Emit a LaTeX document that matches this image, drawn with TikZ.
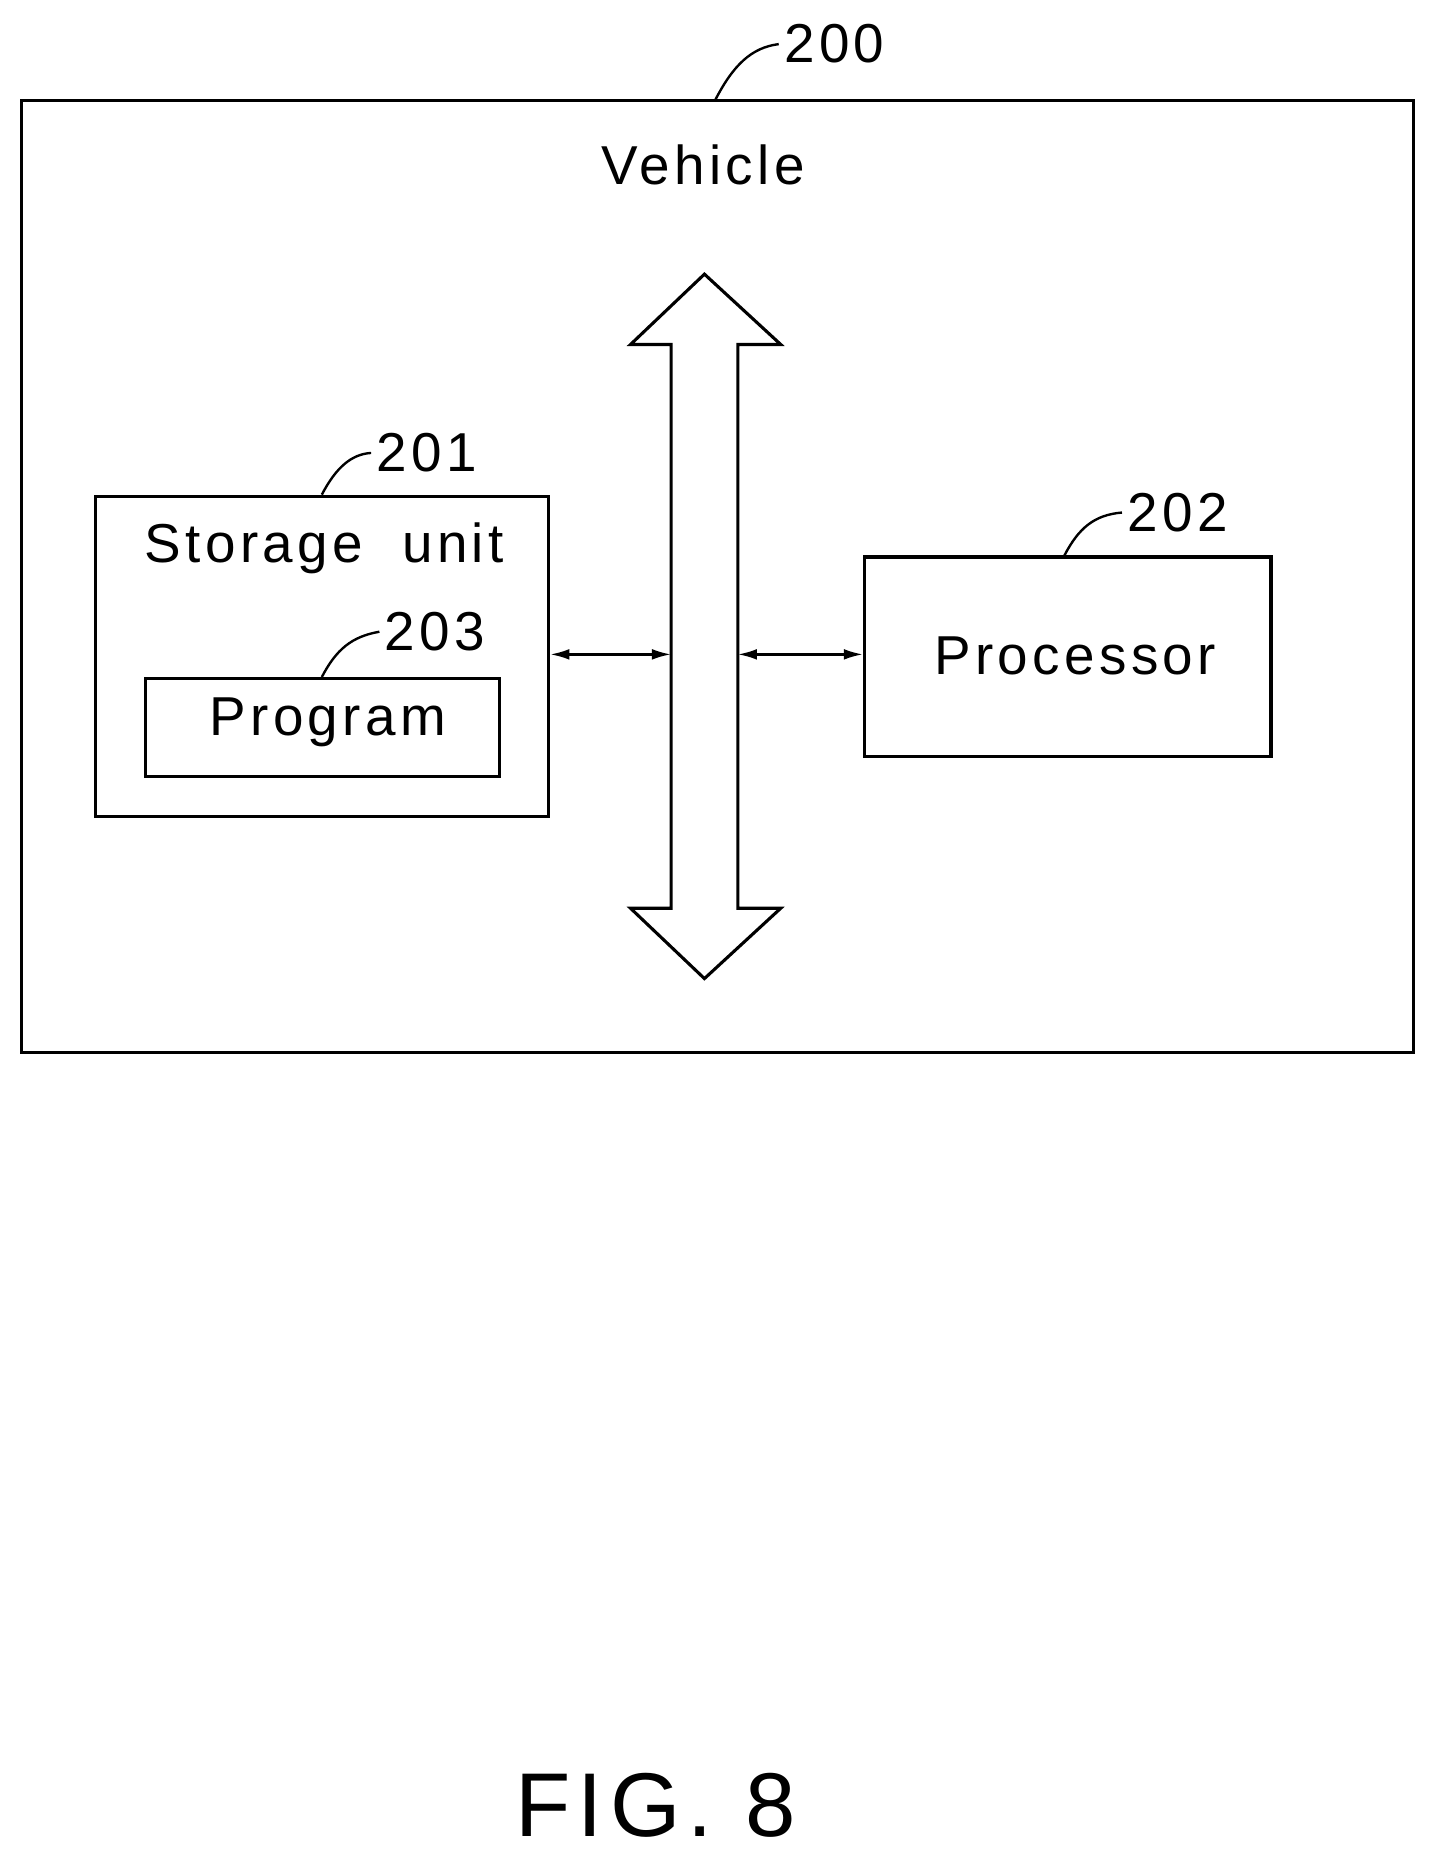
\documentclass[tikz,border=0pt]{standalone}
\usepackage{fontspec}
\setmainfont{Liberation Sans}[LetterSpace=8]
\usetikzlibrary{arrows.meta}
\begin{document}
\begin{tikzpicture}[x=1pt,y=-1pt,line width=2.6pt,
  box/.style={draw,line width=2.6pt},
  txt/.style={font=\fontsize{46}{50}\selectfont},
  num/.style={font=\fontsize{46}{50}\selectfont},
  lead/.style={line width=2pt},
  conn/.style={line width=2pt,{Latex[length=16pt,width=9pt]}-{Latex[length=16pt,width=9pt]}}]
\useasboundingbox (0,0) rectangle (1200,1563);
\draw[box] (18,84) rectangle (1186,883);
\node[num] (n200) at (700,37) {200};
\draw[lead] (600,84) .. controls (615,55) and (630,40) .. (n200.west);
\node[txt] (veh) at (590,138) {Vehicle};
\draw[box] (591,230) -- (655,289) -- (619,289) -- (619,762) -- (655,762) -- (591,821) -- (529,762) -- (563,762) -- (563,289) -- (529,289) -- cycle;
\coordinate (busL) at (563,549);
\coordinate (busR) at (619,549);
\node[box,minimum width=380pt,minimum height=269pt,anchor=north west] (st) at (79,415) {};
\node[txt] at (272,460) {Storage\ \ unit};
\node[num] (n201) at (358,380) {201};
\draw[lead] (270,415) .. controls (282,392) and (295,381) .. (n201.west);
\node[box,minimum width=297pt,minimum height=82pt,anchor=north west,txt] (pg) at (121,568) {};
\node[txt] at (275,606) {Program};
\node[num] (n203) at (365,530) {203};
\draw[lead] (270,568) .. controls (282,545) and (295,534) .. (n203.west);
\node[box,minimum width=341pt,minimum height=167pt,anchor=north west] (pr) at (724,466) {};
\node[txt] at (902,550) {Processor};
\node[num] (n202) at (988,430) {202};
\draw[lead] (893,466) .. controls (905,443) and (918,432) .. (n202.west);
\draw[conn] (st.east |- busL) -- (busL);
\draw[conn] (busR) -- (pr.west |- busR);
\node[font=\fontsize{76}{80}\selectfont] (fig) at (550,1515) {FIG. 8};
\end{tikzpicture}
\end{document}
